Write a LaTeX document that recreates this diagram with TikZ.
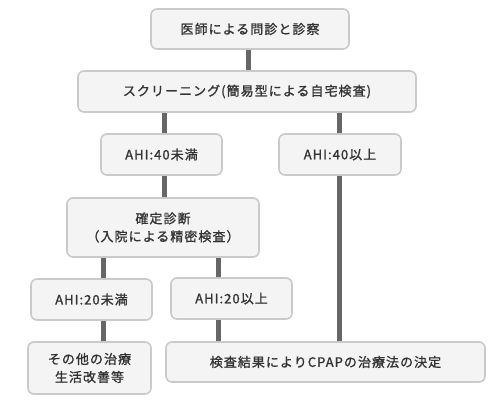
\documentclass[tikz,border=0pt]{standalone}
\usepackage{fontspec}
\setmainfont{Noto Sans CJK JP}[LetterSpace=8,FakeBold=1.2]
\definecolor{boxfill}{HTML}{F4F4F4}
\definecolor{boxline}{HTML}{CACACA}
\definecolor{conn}{HTML}{666666}
\definecolor{txt}{HTML}{333333}
\begin{document}
\begin{tikzpicture}[x=1pt,y=-1pt,
  box/.style={draw=boxline, fill=boxfill, line width=1.6pt, rounded corners=6pt,
    text=txt, font=\fontsize{13}{18}\selectfont, align=center, inner sep=0pt},
  link/.style={draw=conn, line width=5pt}]
\useasboundingbox (0,0) rectangle (500,401);
\fill[white] (0,0) rectangle (500,401);
\coordinate (xa) at (103,0);
\coordinate (xb) at (164,0);
\coordinate (xc) at (218,0);
\coordinate (xd) at (248,0);
\coordinate (xe) at (339,0);
\node[box, minimum width=198, minimum height=40] (doc) at (250,29) {医師による問診と診察};
\node[box, minimum width=338, minimum height=41] (scr) at (247,91.5) {スクリーニング(簡易型による自宅検査)};
\node[box, minimum width=121, minimum height=41] (u40) at (161.5,154.5) {AHI:40未満};
\node[box, minimum width=122, minimum height=41] (o40) at (340,154.5) {AHI:40以上};
\node[box, minimum width=192, minimum height=59] (kak) at (163,227.5) {確定診断\\（入院による精密検査）};
\node[box, minimum width=121, minimum height=41] (u20) at (91.5,299.5) {AHI:20未満};
\node[box, minimum width=121, minimum height=41] (o20) at (231.5,298.5) {AHI:20以上};
\node[box, minimum width=123, minimum height=52] (oth) at (89.5,368) {その他の治療\\生活改善等};
\node[box, minimum width=319, minimum height=40] (ken) at (325.5,362) {検査結果によりCPAPの治療法の決定};
\begin{scope}[line cap=butt]
\draw[link] (doc.south -| xd) -- (scr.north -| xd);
\draw[link] (scr.south -| xb) -- (u40.north -| xb);
\draw[link] (scr.south -| xe) -- (o40.north -| xe);
\draw[link] (o40.south -| xe) -- (ken.north -| xe);
\draw[link] (u40.south -| xb) -- (kak.north -| xb);
\draw[link] (kak.south -| xa) -- (u20.north -| xa);
\draw[link] (kak.south -| xc) -- (o20.north -| xc);
\draw[link] (u20.south -| xa) -- (oth.north -| xa);
\draw[link] (o20.south -| xc) -- (ken.north -| xc);
\end{scope}
\end{tikzpicture}
\end{document}
